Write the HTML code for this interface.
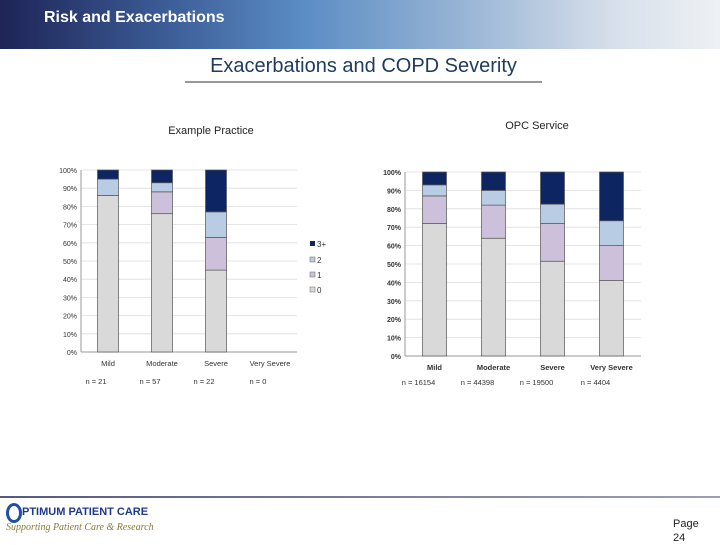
<!DOCTYPE html>
<html><head><meta charset="utf-8"><style>
body{margin:0;width:720px;height:540px;overflow:hidden;background:#fff;font-family:"Liberation Sans",sans-serif;position:relative}
.abs{position:absolute}
</style></head><body>
<div class="abs" style="left:0;top:0;width:720px;height:49px;background:linear-gradient(90deg,#1e2456 0%,#3a5a94 22%,#5b8cc4 42%,#9ab6d6 65%,#d6dfea 85%,#eef1f4 100%)"></div>
<div class="abs" style="left:44px;top:9px;color:#fff;font-weight:bold;font-size:16px">Risk and Exacerbations</div>
<div class="abs" style="left:185px;top:55px;width:357px;text-align:center;color:#1f3a5f;font-size:20px">Exacerbations and COPD Severity</div>
<div class="abs" style="left:185px;top:81px;width:357px;height:2px;background:#999"></div>
<svg class="abs" style="left:0;top:0" width="720" height="540" font-family="Liberation Sans, sans-serif">
<text x="211" y="134" font-size="11" text-anchor="middle" fill="#222">Example Practice</text>
<text x="537" y="129" font-size="11" text-anchor="middle" fill="#222">OPC Service</text>
<g id="L"></g><g id="R"></g>
<g font-size="8" fill="#333">
<rect x="310" y="241" width="5" height="5" fill="#0d2560"/><text x="317" y="247">3+</text>
<rect x="310" y="257" width="5" height="5" fill="#b8cce4" stroke="#666" stroke-width="0.5"/><text x="317" y="263">2</text>
<rect x="310" y="272" width="5" height="5" fill="#ccc0da" stroke="#666" stroke-width="0.5"/><text x="317" y="278">1</text>
<rect x="310" y="287" width="5" height="5" fill="#d9d9d9" stroke="#666" stroke-width="0.5"/><text x="317" y="293">0</text>
</g>
</svg>
<div class="abs" style="left:0;top:496px;width:720px;height:2px;background:linear-gradient(90deg,#555a80,#9aa0b8)"></div>
<div class="abs" style="left:6px;top:503px;width:10px;height:14px;border:3px solid #1f4fa8;border-radius:50%"></div>
<div class="abs" style="left:22px;top:506px;color:#1f3a8a;font-weight:bold;font-size:11px">PTIMUM PATIENT CARE</div>
<div class="abs" style="left:6px;top:522px;color:#8a7a3a;font-style:italic;font-family:'Liberation Serif',serif;font-size:10px">Supporting Patient Care &amp; Research</div>
<div class="abs" style="left:673px;top:517px;font-size:11px;color:#222;line-height:14px">Page<br>24</div>
<script>
const categories=["Mild","Moderate","Severe","Very Severe"];
const yTicks=[0,10,20,30,40,50,60,70,80,90,100];
const colors=["#d9d9d9","#ccc0da","#b8cce4","#0d2560"];
const leftZero=[86,76,45,0];
const leftOne=[0,12,18,0];
const leftTwo=[9,5,14,0];
const leftThree=[5,7,23,0];
const leftN=["n = 21","n = 57","n = 22","n = 0"];
const rightZero=[72,64,51.5,41];
const rightOne=[15,18,20.5,19];
const rightTwo=[6,8,10.5,13.5];
const rightThree=[7,10,17.5,26.5];
const rightN=["n = 16154","n = 44398","n = 19500","n = 4404"];
const NS="http://www.w3.org/2000/svg";
function mk(p,t,a){const e=document.createElementNS(NS,t);for(const k in a)e.setAttribute(k,a[k]);p.appendChild(e);return e;}
function draw(g,cfg,series,ns){
  const y=v=>cfg.y0-(cfg.y0-cfg.y1)*v/100;
  const x=i=>cfg.x0+cfg.step*i+cfg.step/2;
  yTicks.forEach(t=>{
    const l=mk(g,"line",{x1:cfg.x0,x2:cfg.x0+cfg.step*4,y1:y(t),y2:y(t),stroke:"#ddd","stroke-width":0.8});
    
    
    const tx=mk(g,"text",{x:cfg.x0-4,y:y(t)+3,"font-size":7,"text-anchor":"end",fill:"#333","font-weight":cfg.bold?"bold":"normal"});
    tx.textContent=t+"%";
    
    
  });
  mk(g,"line",{x1:cfg.x0,x2:cfg.x0+cfg.step*4,y1:y(0),y2:y(0),stroke:"#999"});
  mk(g,"line",{x1:cfg.x0,x2:cfg.x0,y1:y(0),y2:y(100),stroke:"#999"});
  categories.forEach((c,i)=>{
    let acc=0;
    series.forEach((s,k)=>{
      const v=s[i]; if(v<=0&&k!==1){return;}
      const r=mk(g,"rect",{x:x(i)-cfg.bw/2,y:y(acc+v),width:cfg.bw,height:y(acc)-y(acc+v),fill:colors[k],stroke:"#555","stroke-width":0.7});
      
      
      acc+=v;
    });
    const t=mk(g,"text",{x:x(i),y:y(0)+14,"font-size":7.5,"text-anchor":"middle",fill:"#333","font-weight":cfg.bold?"bold":"normal"});
    t.textContent=c;
    
    
    const n=mk(g,"text",{x:x(i)+cfg.nOff,y:cfg.nY,"font-size":7.5,"text-anchor":"middle",fill:"#333"});
    n.textContent=ns[i];
    
    
  });
}
draw(document.getElementById("L"),{x0:81,step:54,y0:352,y1:170,bw:21,nY:384,nOff:-12},[leftZero,leftOne,leftTwo,leftThree],leftN);
draw(document.getElementById("R"),{x0:405,step:59,y0:356,y1:172,bw:24,nY:385,nOff:-16,bold:true},[rightZero,rightOne,rightTwo,rightThree],rightN);
</script>
</body></html>
